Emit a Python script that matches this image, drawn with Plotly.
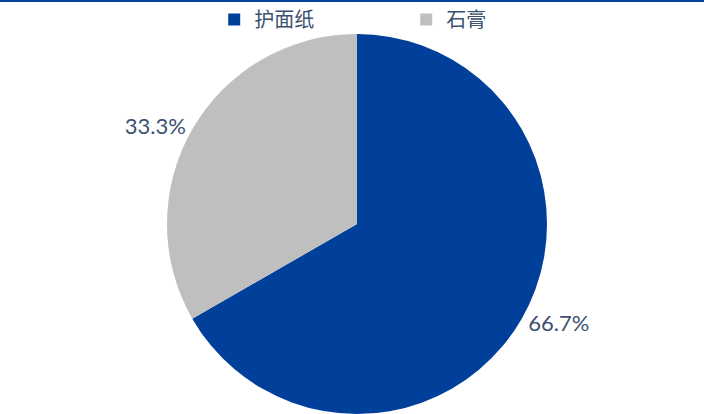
import plotly.graph_objects as go

labels = ["护面纸", "石膏"]
values = [66.7, 33.3]
colors = ["#00409A", "#BFBFBF"]

fig = go.Figure(go.Pie(
    labels=labels,
    values=values,
    sort=False,
    direction="clockwise",
    rotation=0,
    marker=dict(colors=colors, line=dict(width=0)),
    texttemplate="%{percent:.1%}",
    textposition="outside",
    textfont=dict(family="Lato", size=22, color="#3B5170"),
    domain=dict(x=[0.0142, 1], y=[0, 0.9179]),
    hoverinfo="skip",
))

fig.update_layout(
    width=704, height=414,
    margin=dict(l=0, r=0, t=0, b=0, autoexpand=False),
    paper_bgcolor="white",
    plot_bgcolor="white",
    showlegend=True,
    legend=dict(
        orientation="h",
        x=0.577, xanchor="center",
        y=1.0, yanchor="top",
        font=dict(family="Noto Sans CJK SC", size=20, color="#3B5170"),
        entrywidth=147,
        traceorder="normal",
        bgcolor="rgba(0,0,0,0)",
    ),
    shapes=[dict(type="line", xref="paper", yref="paper", x0=0, x1=1,
                 y0=0.9976, y1=0.9976, line=dict(color="#00409A", width=2))],
)

fig.write_html("out.html")
